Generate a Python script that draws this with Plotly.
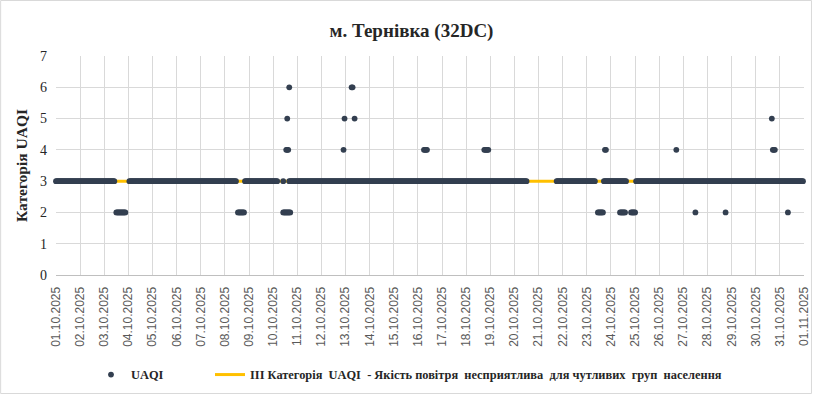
import plotly.graph_objects as go
import pandas as pd

# ---------------- data ----------------
period_start = "2025-10-01 00:00"
period_end = "2025-11-01 00:00"

# UAQI hourly readings, stored as runs of equal consecutive hourly values
# (hours counted from 01.10.2025 00:00)
run_start_h = [0, 73, 188, 226, 232, 498, 545, 577,
               60, 181, 226, 539, 561, 572, 636, 666, 728,
               229, 286, 366, 426, 546, 617, 713,
               230, 287, 297, 712,
               232, 294]
run_end_h = [58, 179, 220, 226, 468, 536, 567, 743,
             69, 187, 233, 544, 566, 576, 636, 666, 728,
             231, 286, 369, 430, 547, 617, 715,
             230, 287, 297, 712,
             232, 295]
run_value = [3, 3, 3, 3, 3, 3, 3, 3,
             2, 2, 2, 2, 2, 2, 2, 2, 2,
             4, 4, 4, 4, 4, 4, 4,
             5, 5, 5, 5,
             6, 6]

threshold_value = 3
threshold_x = [period_start, period_end]

title_text = "м. Тернівка (32DC)"
y_title = "Категорія UAQI"
series_name = "UAQI"
threshold_name = ("III Категорія\u00a0 UAQI\u00a0 - Якість повітря\u00a0 несприятлива\u00a0 "
                  "для чутливих\u00a0 груп\u00a0 населення")

# expand runs to hourly points
t0 = pd.Timestamp(period_start)
xs, ys = [], []
for s, e, v in zip(run_start_h, run_end_h, run_value):
    for h in range(s, e + 1):
        xs.append(t0 + pd.Timedelta(hours=h))
        ys.append(v)

# ---------------- figure ----------------
W, H = 823, 394
L, R, T, B = 56, 17, 56, 119
pw, ph = W - L - R, H - T - B

def px_x(p):
    return (p - L) / pw

def px_y(p):
    return (H - B - p) / ph

serif = "Liberation Serif"
dots_color = "#333F50"
line_color = "#FFC000"
grid = "#D9D9D9"

fig = go.Figure()
fig.add_trace(go.Scatter(
    x=threshold_x, y=[threshold_value] * len(threshold_x),
    mode="lines", name=threshold_name,
    line=dict(color=line_color, width=3),
    legend="legend2", cliponaxis=False,
))
fig.add_trace(go.Scatter(
    x=xs, y=ys, mode="markers", name=series_name,
    marker=dict(color=dots_color, size=5.8, line=dict(width=0)),
    legend="legend", cliponaxis=False,
))

legend_font = dict(family=serif, size=12.4, color="#262626", weight="bold")

fig.update_layout(
    width=W, height=H,
    margin=dict(l=L, r=R, t=T, b=B, pad=0),
    paper_bgcolor="white", plot_bgcolor="white",
    title=dict(text=title_text, x=0.5, xanchor="center", xref="container",
               y=1 - 30 / H, yanchor="middle",
               font=dict(family=serif, size=19, color="#262626", weight="bold")),
    xaxis=dict(
        type="date", range=[period_start, period_end],
        tickmode="linear", tick0=period_start, dtick=86400000,
        tickformat="%d.%m.%Y", tickangle=-90,
        tickfont=dict(family="Liberation Sans", size=12, color="#595959"),
        showgrid=True, gridcolor=grid, gridwidth=1,
        showline=True, linecolor="#BFBFBF", linewidth=1,
        ticks="", zeroline=False, ticklabelstandoff=6,
    ),
    yaxis=dict(
        range=[0, 7], tickmode="linear", tick0=0, dtick=1,
        tickfont=dict(family=serif, size=14, color="#262626"),
        showgrid=True, gridcolor=grid, gridwidth=1,
        zeroline=False, showline=False, ticks="", ticklabelstandoff=8,
        title=dict(text=y_title, standoff=8,
                   font=dict(family=serif, size=15.5, color="#262626", weight="bold")),
    ),
    legend=dict(orientation="h", xref="container", yref="container",
                x=91 / W, xanchor="left", y=1 - 375 / H, yanchor="middle",
                font=legend_font, bgcolor="rgba(0,0,0,0)"),
    legend2=dict(orientation="h", xref="container", yref="container",
                 x=210 / W, xanchor="left", y=1 - 375 / H, yanchor="middle",
                 font=legend_font, bgcolor="rgba(0,0,0,0)"),
    shapes=[dict(type="rect", xref="paper", yref="paper",
                 x0=px_x(0.5), x1=px_x(813.5), y0=px_y(H - 0.5), y1=px_y(0.5),
                 line=dict(color="#D9D9D9", width=1), layer="below")],
    showlegend=True,
)

fig.write_html("out.html", include_plotlyjs=True,
               config={"displayModeBar": False},
               post_script="document.body.style.margin='0';document.body.style.overflow='hidden';")
